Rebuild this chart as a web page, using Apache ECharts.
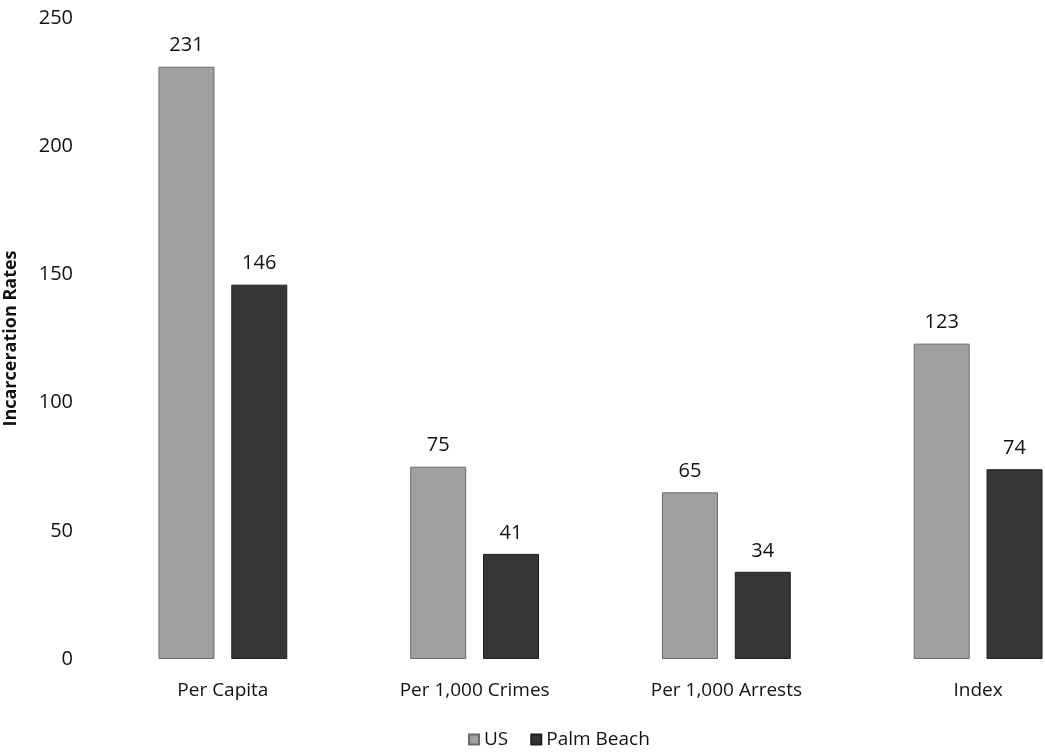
<!DOCTYPE html>
<html><head><meta charset="utf-8">
<script src="https://cdn.jsdelivr.net/npm/echarts@6/dist/echarts.min.js"></script>
<style>html,body{margin:0;padding:0;background:#fff}#c{width:1045px;height:753px}</style>
</head><body><div id="c"></div>
<script>
const categories = ["Per Capita", "Per 1,000 Crimes", "Per 1,000 Arrests", "Index"];
const usValues = [231, 75, 65, 123];
const palmBeachValues = [146, 41, 34, 74];
const yTicks = [0, 50, 100, 150, 200, 250];

const chart = echarts.init(document.getElementById('c'));
const font = "'Open Sans', 'Noto Sans', sans-serif";
chart.setOption({
  animation: false,
  textStyle: {fontFamily: font},
  grid: {left: 97, top: 18, width: 1007, height: 641, outerBoundsMode: 'none', containLabel: false},
  legend: {
    top: 725, left: 463, itemWidth: 10, itemHeight: 10, itemGap: 22,
    icon: 'rect',
    textStyle: {fontSize: 19, color: '#111', fontFamily: font},
    data: ['US', 'Palm Beach']
  },
  xAxis: {
    type: 'category', data: categories,
    axisLine: {show: false}, axisTick: {show: false},
    axisLabel: {fontSize: 19, color: '#111', margin: 22, fontFamily: font}
  },
  yAxis: {
    type: 'value', min: yTicks[0], max: yTicks[yTicks.length - 1], interval: 50,
    splitLine: {show: false}, axisLine: {show: false}, axisTick: {show: false},
    axisLabel: {fontSize: 20, color: '#111', margin: 24, fontFamily: font},
    name: 'Incarceration Rates', nameLocation: 'middle', nameGap: 77,
    nameTextStyle: {fontSize: 18, fontWeight: 'bold', color: '#111', fontFamily: font}
  },
  series: [
    {
      name: 'US', type: 'bar', data: usValues, barWidth: 56, barGap: '30%',
      itemStyle: {color: '#a0a0a0', borderColor: '#6a6a6a', borderWidth: 1},
      label: {show: true, position: 'top', distance: 11, fontSize: 20, color: '#111', fontFamily: font}
    },
    {
      name: 'Palm Beach', type: 'bar', data: palmBeachValues, barWidth: 56,
      itemStyle: {color: '#363636', borderColor: '#1e1e1e', borderWidth: 1},
      label: {show: true, position: 'top', distance: 11, fontSize: 20, color: '#111', fontFamily: font}
    }
  ]
});
</script></body></html>
